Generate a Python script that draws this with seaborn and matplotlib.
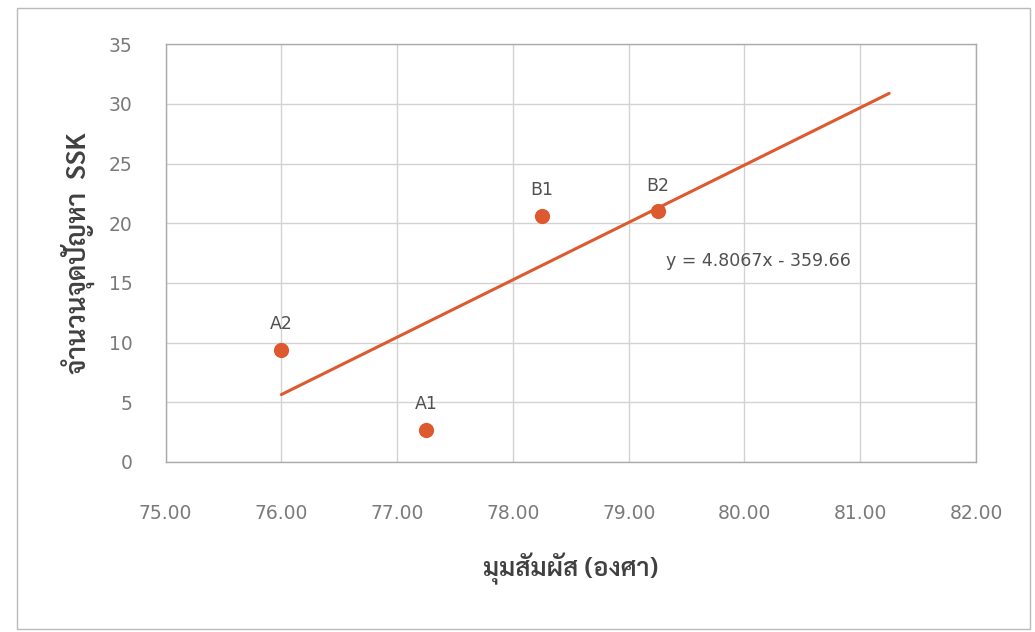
import numpy as np
import pandas as pd
import seaborn as sns
import matplotlib.pyplot as plt
from matplotlib.patches import Rectangle

# values
labels = ['A2', 'A1', 'B1', 'B2']
angle = [76.00, 77.25, 78.25, 79.25]
ssk = [9.4, 2.7, 20.6, 21.0]
slope = 4.8067
intercept = -359.66
forecast = 2.0

x_ticks = [75, 76, 77, 78, 79, 80, 81, 82]
y_ticks = [0, 5, 10, 15, 20, 25, 30, 35]
x_title = 'มุมสัมผัส (องศา)'
y_title = 'จำนวนจุดปัญหา  SSK'
eq_text = 'y = 4.8067x - 359.66'

orange = '#DD5A2E'
thai_font = ['Sarabun', 'Loma', 'DejaVu Sans']

sns.set_theme(style='white')
plt.rcParams['font.family'] = ['DejaVu Sans', 'Sarabun']

df = pd.DataFrame({'label': labels, 'angle': angle, 'ssk': ssk})

fig = plt.figure(figsize=(10.35, 6.32), dpi=100)
ax = fig.add_axes([0.160, 0.269, 0.783, 0.661])

# chart area border
fig.patches.append(Rectangle((0.016, 0.005), 0.979, 0.982, transform=fig.transFigure,
                             fill=False, edgecolor='#BBBBBB', lw=1.0))

# linear trendline, extended forward like Excel
tx = np.array([min(angle), max(angle) + forecast])
trend = pd.DataFrame({'x': tx, 'y': slope * tx + intercept})
sns.lineplot(data=trend, x='x', y='y', color=orange, lw=2.2, ax=ax, zorder=3)

sns.scatterplot(data=df, x='angle', y='ssk', color=orange, s=120, edgecolor=orange,
                linewidth=0, ax=ax, zorder=4)

for _, r in df.iterrows():
    ax.annotate(r['label'], (r['angle'], r['ssk']), xytext=(0, 12), textcoords='offset points',
                ha='center', va='bottom', fontsize=12.5, color='#505050')

ax.text(79.32, 16.8, eq_text, fontsize=12.5, color='#505050', va='center', ha='left')

ax.set_xlim(75, 82)
ax.set_ylim(0, 35)
ax.set_xticks(x_ticks)
ax.set_xticklabels([f'{v:.2f}' for v in x_ticks])
ax.set_yticks(y_ticks)
ax.tick_params(axis='both', labelsize=13.5, colors='#7A7A7A', length=0)
ax.tick_params(axis='x', pad=30)
ax.tick_params(axis='y', pad=24)
ax.grid(True, color='#D2D2D2', lw=1.0)
for s in ax.spines.values():
    s.set_color('#AAAAAA')
    s.set_linewidth(1.0)

ax.set_xlabel(x_title, fontsize=18.5, color='#404040', fontweight='semibold', labelpad=22,
              family=thai_font)
ax.set_ylabel(y_title, fontsize=19.5, color='#404040', fontweight='semibold', labelpad=10,
              family=thai_font)

fig.savefig('out.png', dpi=100, facecolor='white')
